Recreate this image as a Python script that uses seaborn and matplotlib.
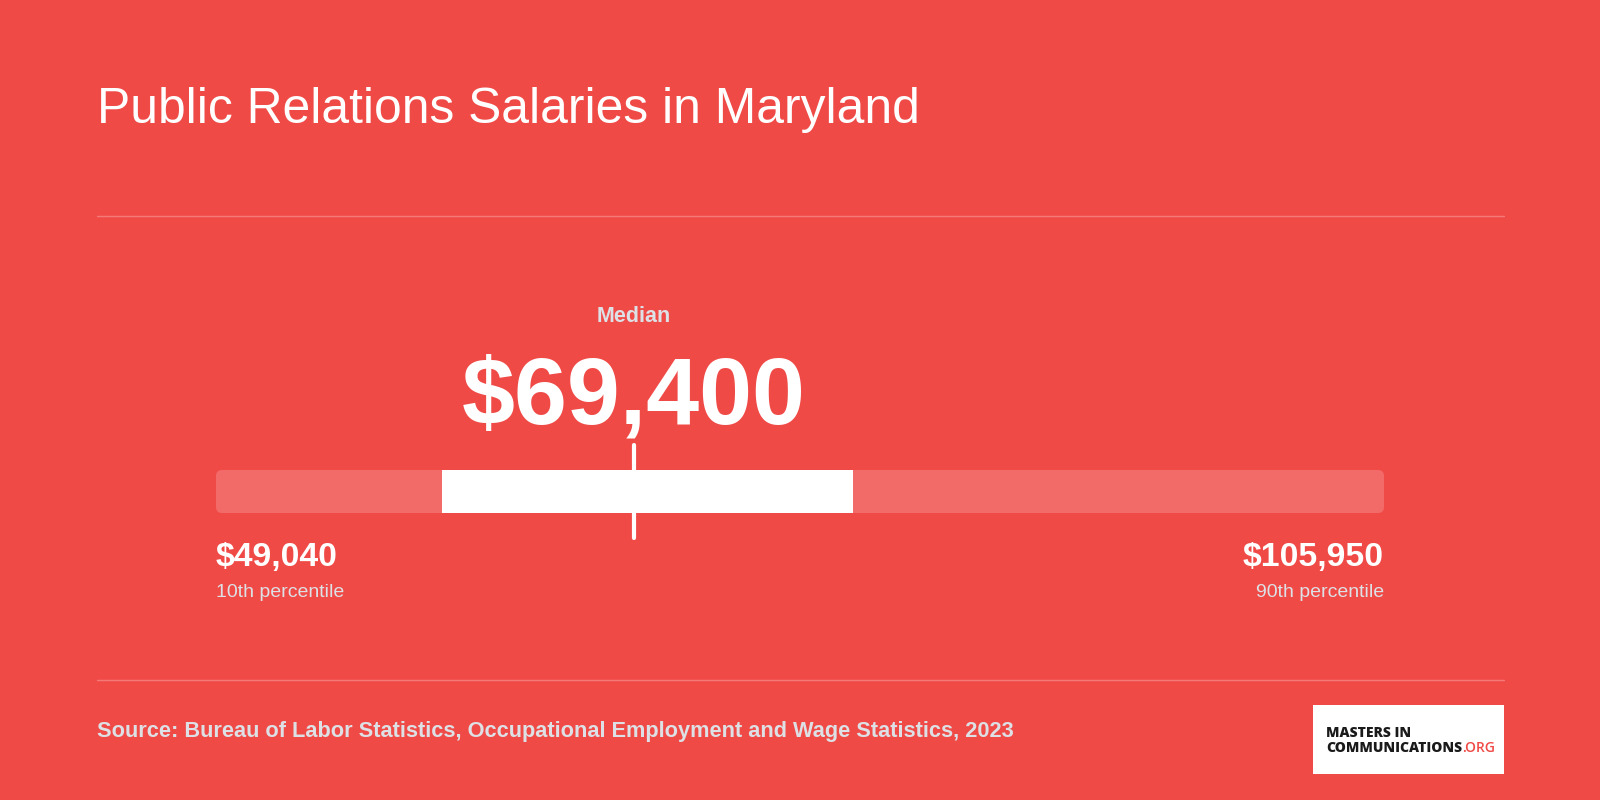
import matplotlib
matplotlib.use("Agg")
import matplotlib.pyplot as plt
import seaborn as sns
from matplotlib.patches import FancyBboxPatch, Rectangle
from matplotlib.lines import Line2D

# data
title = "Public Relations Salaries in Maryland"
source = "Source: Bureau of Labor Statistics, Occupational Employment and Wage Statistics, 2023"
pct_labels = ["10th percentile", "90th percentile"]
p10, p25, median, p75, p90 = 49040, 60050, 69400, 80080, 105950

BG = "#F04A47"
TRACK = "#F36B69"
GREY = "#DDE0E4"
RULE = "#F47A77"

sns.set_theme(style="white")
plt.rcParams["font.family"] = ["Liberation Sans", "DejaVu Sans"]

W, H = 1600, 800
fig = plt.figure(figsize=(16, 8), dpi=100, facecolor=BG)


def fx(px):
    return px / W


def fy(py):
    return 1 - py / H


# title and rules
fig.text(fx(97), fy(123), title, color="white", fontsize=35.8, va="baseline", ha="left")
for yy in (216, 680):
    fig.add_artist(Line2D([fx(97), fx(1504)], [fy(yy), fy(yy)], color=RULE, lw=1))

# salary range bar
bar_l, bar_r, bar_t, bar_b = 216, 1384, 470, 513
ax = fig.add_axes([fx(bar_l), fy(bar_b), fx(bar_r - bar_l), (bar_b - bar_t) / H])
ax.set_facecolor("none")

# IQR drawn by seaborn as a horizontal bar starting at the 25th percentile
sns.barplot(x=[p75 - p25], y=["IQR"], orient="h", left=p25, color="white",
            width=1, saturation=1, linewidth=0, ax=ax, zorder=2)
ax.set_xlim(p10, p90)
ax.set_ylim(-0.5, 0.5)

x_per_px = (p90 - p10) / (bar_r - bar_l)
y_per_px = 1 / (bar_b - bar_t)
track = FancyBboxPatch((p10, -0.5), p90 - p10, 1,
                       boxstyle=f"round,pad=0,rounding_size={6 * x_per_px}",
                       mutation_aspect=y_per_px / x_per_px,
                       facecolor=TRACK, edgecolor="none", zorder=1, clip_on=False)
ax.add_patch(track)

ext = 25 * y_per_px
ax.plot([median, median], [-0.5 - ext, 0.5 + ext], color="white", lw=3,
        solid_capstyle="round", clip_on=False, zorder=3)
ax.axis("off")

# labels
med_x = bar_l + (median - p10) / x_per_px
fig.text(fx(med_x), fy(322), "Median", color=GREY, fontsize=15.5, fontweight="bold",
         ha="center", va="baseline")
fig.text(fx(med_x), fy(423), f"${median:,}", color="white", fontsize=68.5, fontweight="bold",
         ha="center", va="baseline")

fig.text(fx(bar_l), fy(566), f"${p10:,}", color="white", fontsize=24.3, fontweight="bold",
         ha="left", va="baseline")
fig.text(fx(bar_l), fy(597), pct_labels[0], color=GREY, fontsize=14, ha="left", va="baseline")
fig.text(fx(bar_r), fy(566), f"${p90:,}", color="white", fontsize=24.3, fontweight="bold",
         ha="right", va="baseline")
fig.text(fx(bar_r), fy(597), pct_labels[1], color=GREY, fontsize=14, ha="right", va="baseline")

# source
fig.text(fx(97), fy(737), source, color=GREY, fontsize=15.7, fontweight="bold",
         ha="left", va="baseline")

# logo
fig.add_artist(Rectangle((fx(1313), fy(774)), fx(1504 - 1313), (774 - 705) / H,
                         facecolor="white", edgecolor="none", transform=fig.transFigure))
logo_font = ["Open Sans", "DejaVu Sans"]
fig.text(fx(1326), fy(737), "MASTERS IN", color="#1A1A1A", fontsize=10,
         fontweight="heavy", family=logo_font, ha="left", va="baseline")
t = fig.text(fx(1326), fy(752), "COMMUNICATIONS", color="#1A1A1A", fontsize=10,
             fontweight="heavy", family=logo_font, ha="left", va="baseline")
fig.canvas.draw()
bb = t.get_window_extent()
fig.text(bb.x1 / W, fy(752), ".ORG", color="#F04A47", fontsize=10,
         fontweight="semibold", family=logo_font, ha="left", va="baseline")

fig.savefig("out.png", dpi=100, facecolor=BG)
